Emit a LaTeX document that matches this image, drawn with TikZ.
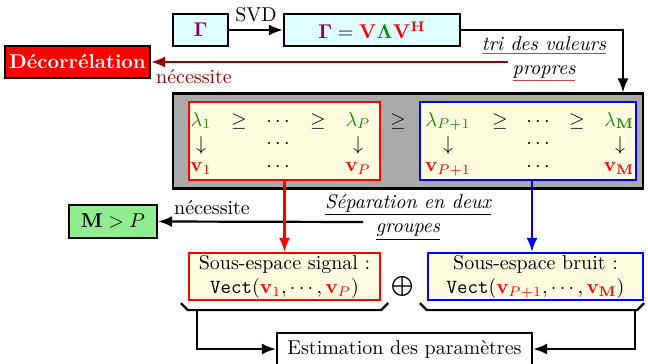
\documentclass[tikz,border=0pt]{standalone}
\usetikzlibrary{arrows.meta}
\definecolor{cyanl}{RGB}{224,255,255}
\definecolor{yel}{RGB}{255,253,224}
\definecolor{grn}{RGB}{144,238,144}
\definecolor{dred}{RGB}{150,0,0}
\definecolor{lgreen}{RGB}{20,140,20}
\definecolor{purp}{RGB}{128,0,128}
\definecolor{grayf}{RGB}{170,170,170}
\definecolor{ulred}{RGB}{200,70,70}
\begin{document}
\begin{tikzpicture}[x=0.5pt,y=-0.5pt,
  box/.style={draw=black,line width=1.1pt,inner sep=0pt,minimum height=16pt},
  ybox/.style={line width=1.1pt,fill=yel,inner sep=0pt},
  arr/.style={line width=1.1pt,-{Latex[length=7pt,width=5.5pt]}},
  m/.style={inner sep=0pt,anchor=base},
  c/.style={inner sep=0pt}]
\useasboundingbox (0,0) rectangle (648,364);
% top row
\node[box,fill=cyanl,minimum width=27.5pt] (gam) at (200.5,30) {$\textcolor{purp}{\mathbf{\Gamma}}$};
\node[box,fill=cyanl,minimum width=88pt] (svd) at (372,30) {$\textcolor{purp}{\mathbf{\Gamma}}=\textcolor{red}{\mathbf{V}}\textcolor{lgreen}{\mathbf{\Lambda}}\textcolor{red}{\mathbf{V}^{\mathbf{H}}}$};
\node[box,fill=red,minimum width=72.5pt,text=white,font=\bfseries] (deco) at (77.5,62) {Décorrélation};
\draw[arr] (gam) -- node[above] (svdl) {SVD} (svd);
% gray box
\node[box,fill=grayf,minimum width=235pt,minimum height=47.5pt] (gray) at (408,141) {};
\node[ybox,draw=red,minimum width=95.5pt,minimum height=39pt] (rbox) at (284.5,141) {};
\node[ybox,draw=blue,minimum width=108pt,minimum height=39pt] (bbox) at (528,141) {};
\coordinate (c1) at (623,30);
\draw[arr] (svd.east) -- (c1) -- (c1 |- gray.north);
% label tri
\node[align=center,font=\itshape] (tri) at (544,59) {\textcolor{ulred}{\underline{\textcolor{black}{tri des valeurs}}}\\\textcolor{ulred}{\underline{\textcolor{black}{propres}}}};
\coordinate (c2) at (508,62);
\draw[arr,dred] (c2) -- (deco.east);
\node[text=dred] (nec1) at (194,77) {nécessite};
% matrix entries
\node[m,text=lgreen] (l1) at (201,126) {$\lambda_1$};
\node[m] (g1) at (239,126) {$\geq$};
\node[m] (d1) at (278,126) {$\cdots$};
\node[m] (g2) at (318,126) {$\geq$};
\node[m,text=lgreen] (lP) at (358,126) {$\lambda_P$};
\node[m] (g3) at (398,126) {$\geq$};
\node[m,text=lgreen] (lP1) at (448,126) {$\lambda_{P+1}$};
\node[m] (g4) at (500,126) {$\geq$};
\node[m] (d2) at (538,126) {$\cdots$};
\node[m] (g5) at (577,126) {$\geq$};
\node[m,text=lgreen] (lM) at (619,126) {$\lambda_{\mathbf{M}}$};
\node[c] (a1) at (201,145) {$\downarrow$};
\node[c] (d3) at (278,144) {$\cdots$};
\node[c] (a2) at (358,145) {$\downarrow$};
\node[c] (a3) at (448,145) {$\downarrow$};
\node[c] (d4) at (538,144) {$\cdots$};
\node[c] (a4) at (620,145) {$\downarrow$};
\node[m,text=red] (v1) at (201,171) {$\mathbf{v}_1$};
\node[m] (d5) at (278,171) {$\cdots$};
\node[m,text=red] (vP) at (358,171) {$\mathbf{v}_P$};
\node[m,text=red] (vP1) at (448,171) {$\mathbf{v}_{P+1}$};
\node[m] (d6) at (538,171) {$\cdots$};
\node[m,text=red] (vM) at (619,171) {$\mathbf{v}_{\mathbf{M}}$};
% separation
\node[box,fill=grn,minimum width=44pt,minimum height=16.5pt] (mp) at (113,221.5) {$\mathbf{M}>P$};
\node[align=center,font=\itshape] (sep) at (408,217) {\underline{Séparation en deux}\\\underline{groupes}};
\coordinate (c3) at (363,222);
\draw[arr] (c3) -- (mp.east);
\node (nec2) at (212,208) {nécessite};
% subspaces
\node[ybox,draw=red,minimum width=95.5pt,minimum height=23.5pt,align=center] (sig) at (284.5,276.5) {Sous-espace signal :\\\texttt{Vect}$(\textcolor{red}{\mathbf{v}_1},\cdots,\textcolor{red}{\mathbf{v}_P})$};
\node[ybox,draw=blue,minimum width=107.5pt,minimum height=23.5pt,align=center] (noise) at (535.5,276.5) {Sous-espace bruit :\\\texttt{Vect}$(\textcolor{red}{\mathbf{v}_{P+1}},\cdots,\textcolor{red}{\mathbf{v}_{\mathbf{M}}})$};
\node (op) at (403,286) {$\bigoplus$};
\draw[arr,red] (rbox.south) -- (sig.north);
\coordinate (c4) at (532,180);
\draw[arr,blue] (c4) -- (c4 |- noise.north);
% braces
\draw[line width=1.1pt] ([shift={(-7,2)}]sig.south west) -- ([shift={(0,9)}]sig.south west) -- ([shift={(0,9)}]sig.south east) -- ([shift={(7,2)}]sig.south east);
\draw[line width=1.1pt] ([shift={(-7,2)}]noise.south west) -- ([shift={(0,9)}]noise.south west) -- ([shift={(-7,9)}]noise.south east) -- ([shift={(0,2)}]noise.south east);
% estimation
\node[box,fill=white,minimum width=127.5pt] (est) at (404.5,349) {Estimation des paramètres};
\coordinate (b1) at (197,309);
\coordinate (b2) at (635,309);
\draw[arr] (b1) |- (est.west);
\draw[arr] (b2) |- (est.east);
\end{tikzpicture}
\end{document}
